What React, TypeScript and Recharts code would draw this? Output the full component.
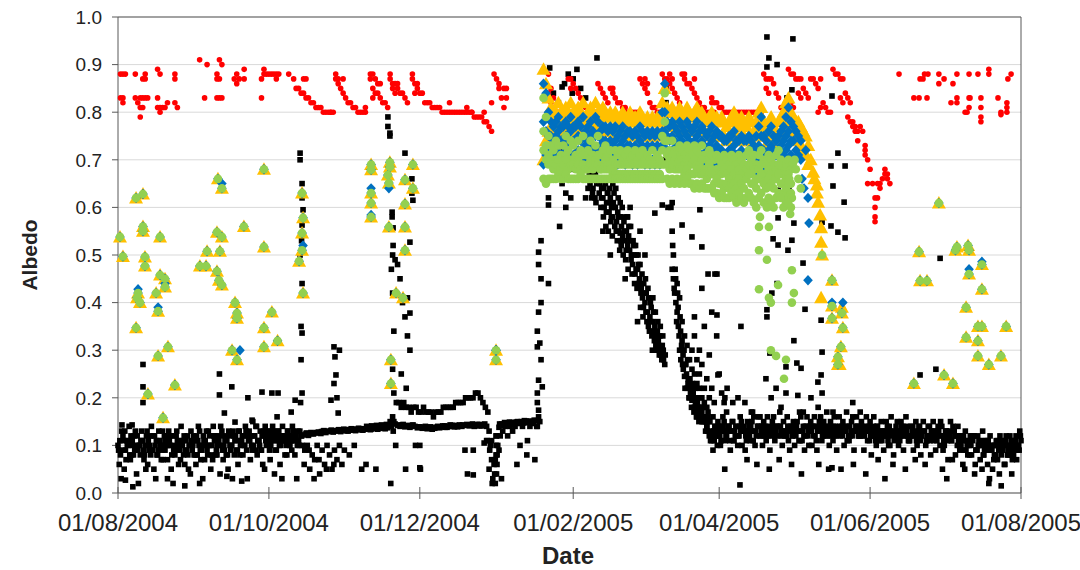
import React from 'react'
import {
  ScatterChart, Scatter, XAxis, YAxis, CartesianGrid, ReferenceLine,
} from 'recharts'

// x = days since 01/08/2004, y = albedo
const DATE_TICKS = [0, 61, 122, 184, 243, 304, 365]
const DATE_LABELS = ['01/08/2004', '01/10/2004', '01/12/2004', '01/02/2005', '01/04/2005', '01/06/2005', '01/08/2005']
const ALBEDO_TICKS = [0, 0.1, 0.2, 0.3, 0.4, 0.5, 0.6, 0.7, 0.8, 0.9, 1.0]

// black squares: daily readings (days 0-169 and 236-365)
const blackA1 = [
  0.10, 0.08, 0.12, 0.09, 0.11, 0.07, 0.10, 0.13, 0.09, 0.08,
  0.11, 0.10, 0.06, 0.12, 0.09, 0.10, 0.08, 0.11, 0.13, 0.09,
  0.07, 0.10, 0.12, 0.08, 0.11, 0.09, 0.10, 0.06, 0.12, 0.10,
  0.09, 0.11, 0.08, 0.13, 0.10, 0.07, 0.09, 0.12, 0.10, 0.11,
  0.08, 0.10, 0.13, 0.09, 0.11, 0.12, 0.10, 0.08, 0.11, 0.13,
  0.11, 0.12, 0.09, 0.13, 0.10, 0.12, 0.14, 0.11, 0.09, 0.12,
  0.10, 0.13, 0.11, 0.12, 0.09, 0.13, 0.11, 0.12, 0.10, 0.12,
  0.11, 0.13, 0.12, 0.11, 0.12, 0.122, 0.125, 0.121, 0.127, 0.124,
  0.126, 0.128, 0.125, 0.130, 0.127, 0.129, 0.131, 0.128, 0.130, 0.132,
  0.129, 0.131, 0.133, 0.130, 0.132, 0.134, 0.131, 0.133, 0.135, 0.132,
  0.134, 0.136, 0.133, 0.135, 0.137, 0.134, 0.136, 0.138, 0.135, 0.137,
  0.15, 0.16, 0.145, 0.142, 0.140, 0.143, 0.139, 0.141, 0.138, 0.142,
  0.140, 0.137, 0.139, 0.136, 0.138, 0.135, 0.137, 0.134, 0.136, 0.138,
  0.137, 0.139, 0.141, 0.138, 0.140, 0.142, 0.139, 0.141, 0.143, 0.140,
  0.142, 0.144, 0.141, 0.143, 0.140, 0.142, 0.144, 0.141, 0.143, 0.140,
  0.13, 0.11, 0.06, 0.12, 0.138, 0.145, 0.142, 0.147, 0.144, 0.148,
  0.145, 0.149, 0.146, 0.150, 0.147, 0.151, 0.148, 0.150, 0.146, 0.152,
]
const blackA2 = [
  0.17, 0.15, 0.14, 0.12,
  0.11, 0.13, 0.12, 0.14, 0.13, 0.15, 0.12, 0.14, 0.13, 0.11,
  0.14, 0.12, 0.15, 0.13, 0.11, 0.14, 0.13, 0.16, 0.12, 0.14,
  0.13, 0.15, 0.11, 0.14, 0.12, 0.16, 0.13, 0.14, 0.12, 0.15,
  0.13, 0.11, 0.14, 0.15, 0.12, 0.13, 0.16, 0.14, 0.12, 0.13,
  0.15, 0.12, 0.14, 0.13, 0.16, 0.12, 0.14, 0.13, 0.15, 0.11,
  0.14, 0.13, 0.12, 0.15, 0.13, 0.14, 0.12, 0.16, 0.13, 0.14,
  0.12, 0.14, 0.13, 0.11, 0.15, 0.12, 0.13, 0.14, 0.11, 0.13,
  0.12, 0.14, 0.10, 0.13, 0.12, 0.15, 0.11, 0.13, 0.12, 0.14,
  0.11, 0.13, 0.12, 0.10, 0.14, 0.12, 0.13, 0.11, 0.14, 0.12,
  0.13, 0.11, 0.12, 0.14, 0.10, 0.13, 0.12, 0.11, 0.13, 0.12,
  0.10, 0.12, 0.09, 0.11, 0.10, 0.08, 0.12, 0.09, 0.11, 0.10,
  0.08, 0.11, 0.09, 0.10, 0.07, 0.11, 0.09, 0.08, 0.10, 0.12,
  0.09, 0.11, 0.08, 0.12, 0.10, 0.11,
]
const blackB1 = [
  0.06, 0.13, 0.05, 0.11, 0.14, 0.08, 0.12, 0.04, 0.10, 0.13,
  0.07, 0.12, 0.09, 0.14, 0.05, 0.11, 0.13, 0.07, 0.10, 0.12,
  0.13, 0.05, 0.09, 0.12, 0.06, 0.14, 0.08, 0.11, 0.05, 0.13,
  0.12, 0.06, 0.14, 0.07, 0.12, 0.10, 0.13, 0.05, 0.14, 0.08,
  0.12, 0.14, 0.07, 0.12, 0.05, 0.09, 0.13, 0.12, 0.06, 0.10,
  0.08, 0.14, 0.12, 0.07, 0.15, 0.09, 0.11, 0.13, 0.06, 0.14,
  0.13, 0.07, 0.14, 0.09, 0.13, 0.06, 0.14, 0.08, 0.13, 0.10,
  0.14, 0.08, 0.10, 0.13, 0.10, 0.09, 0.10, 0.05, 0.08, 0.07,
  0.10, 0.04, 0.09, 0.06, 0.10, 0.08, 0.05, 0.09, 0.07, 0.10,
  0.06, 0.09, null, 0.08, null, 0.10, null, null, 0.05, null,
  0.140, 0.138, 0.141, 0.139, 0.142, 0.140, 0.143, 0.141, 0.144, 0.142,
  0.14, 0.15, 0.19, 0.19, 0.18, 0.19, 0.18, 0.18, 0.17, 0.18,
  0.18, 0.17, 0.17, 0.18, 0.17, 0.17, 0.17, 0.16, 0.17, 0.17,
  0.17, 0.18, 0.18, 0.18, 0.18, 0.18, 0.19, 0.19, 0.19, 0.19,
  0.20, 0.20, 0.20, 0.20, 0.21, 0.21, 0.20, 0.19, 0.18, 0.17,
  0.10, 0.03, 0.07, 0.10, 0.12, 0.13, 0.14, 0.12, 0.14, 0.13,
  0.14, 0.15, 0.10, 0.14, 0.15, 0.11, 0.14, 0.15, 0.07, 0.14,
]
const blackB2 = [
  0.15, 0.13, 0.16, 0.11,
  0.09, 0.12, 0.15, 0.10, 0.16, 0.11, 0.14, 0.09, 0.15, 0.12,
  0.10, 0.16, 0.13, 0.09, 0.15, 0.11, 0.17, 0.10, 0.14, 0.16,
  0.10, 0.12, 0.16, 0.09, 0.15, 0.11, 0.14, 0.17, 0.10, 0.13,
  0.16, 0.09, 0.12, 0.10, 0.15, 0.17, 0.11, 0.09, 0.16, 0.14,
  0.10, 0.16, 0.09, 0.15, 0.11, 0.14, 0.17, 0.10, 0.12, 0.16,
  0.09, 0.16, 0.14, 0.10, 0.17, 0.11, 0.15, 0.09, 0.16, 0.12,
  0.15, 0.09, 0.16, 0.14, 0.08, 0.16, 0.10, 0.12, 0.15, 0.09,
  0.15, 0.10, 0.16, 0.08, 0.14, 0.10, 0.15, 0.09, 0.16, 0.11,
  0.14, 0.09, 0.15, 0.13, 0.08, 0.15, 0.10, 0.14, 0.08, 0.15,
  0.09, 0.14, 0.15, 0.09, 0.13, 0.07, 0.15, 0.14, 0.08, 0.14,
  0.12, 0.06, 0.13, 0.08, 0.12, 0.11, 0.06, 0.12, 0.07, 0.13,
  0.11, 0.06, 0.12, 0.05, 0.10, 0.07, 0.12, 0.11, 0.06, 0.08,
  0.12, 0.07, 0.11, 0.09, 0.13,
]
const blackC1 = [
  0.09, 0.03, 0.11, 0.07, 0.10, 0.12, 0.08, 0.10, 0.02, 0.11,
  0.09, 0.05, 0.11, 0.08, 0.12, 0.03, 0.09, 0.10, 0.07, 0.11,
  0.10, 0.12, 0.02, 0.09, 0.10, 0.07, 0.11, 0.09, 0.08, 0.04,
  0.10, 0.08, 0.11, 0.09, 0.03, 0.11, 0.08, 0.10, 0.07, 0.12,
  0.10, 0.04, 0.09, 0.11, 0.08, 0.10, 0.03, 0.11, 0.09, 0.08,
  0.12, 0.10, 0.03, 0.11, 0.09, 0.12, 0.08, 0.10, 0.12, 0.05,
  0.11, 0.09, 0.12, 0.04, 0.11, 0.10, 0.03, 0.11, 0.08, 0.12,
  0.09, 0.11, 0.03, 0.10, 0.12, 0.06, 0.126, 0.09, 0.125, 0.03,
  0.127, 0.07, 0.129, 0.131, 0.05, 0.130, 0.132, 0.06, 0.131, 0.133,
  0.132, 0.134, 0.131, 0.133, 0.135, 0.132, 0.134, 0.136, 0.133, 0.135,
  0.06, 0.137, 0.134, 0.136, 0.05, 0.137, 0.139, 0.136, 0.138, 0.140,
  0.02, 0.13, 0.10, 0.143, 0.141, 0.144, 0.05, 0.142, 0.140, 0.143,
  0.10, 0.139, 0.05, 0.138, 0.140, 0.137, 0.139, 0.136, 0.138, 0.14,
  0.139, 0.141, 0.138, 0.140, 0.143, 0.140, 0.142, 0.139, 0.141, 0.143,
  0.09, 0.04, 0.143, 0.145, 0.142, 0.144, 0.141, 0.143, 0.145, 0.11,
  0.09, 0.02, 0.04, 0.08, 0.145, 0.143, 0.148, 0.145, 0.149, 0.146,
  0.148, 0.06, 0.149, 0.147, 0.152, 0.08, 0.151, 0.149, 0.153, 0.14,
]
const blackC2 = [
  0.18, 0.16, 0.13, 0.15,
  0.12, 0.14, 0.10, 0.12, 0.14, 0.05, 0.13, 0.11, 0.15, 0.13,
  0.12, 0.14, 0.10, 0.13, 0.07, 0.12, 0.15, 0.13, 0.06, 0.12,
  0.14, 0.12, 0.13, 0.05, 0.13, 0.12, 0.14, 0.07, 0.13, 0.12,
  0.12, 0.14, 0.06, 0.13, 0.14, 0.11, 0.04, 0.12, 0.14, 0.10,
  0.13, 0.14, 0.11, 0.06, 0.13, 0.15, 0.12, 0.05, 0.13, 0.14,
  0.12, 0.13, 0.05, 0.13, 0.14, 0.12, 0.13, 0.06, 0.14, 0.12,
  0.13, 0.12, 0.04, 0.13, 0.12, 0.14, 0.11, 0.07, 0.13, 0.12,
  0.13, 0.11, 0.13, 0.06, 0.12, 0.13, 0.12, 0.14, 0.05, 0.12,
  0.12, 0.14, 0.07, 0.12, 0.11, 0.13, 0.06, 0.12, 0.11, 0.13,
  0.12, 0.13, 0.10, 0.05, 0.12, 0.11, 0.13, 0.07, 0.12, 0.10,
  0.09, 0.11, 0.05, 0.10, 0.08, 0.12, 0.04, 0.09, 0.10, 0.05,
  0.09, 0.10, 0.03, 0.09, 0.08, 0.10, 0.04, 0.09, 0.06, 0.10,
  0.08, 0.04, 0.10, 0.07, 0.09,
]
const blackFillEarly = [
  0.11, 0.09, 0.13, 0.10, 0.08, 0.11, 0.09, 0.12, 0.10, 0.11,
  0.08, 0.13, 0.10, 0.09, 0.12, 0.08, 0.11, 0.09, 0.12, 0.10,
  0.11, 0.08, 0.10, 0.13, 0.09, 0.11, 0.12, 0.09, 0.10, 0.11,
  0.08, 0.12, 0.10, 0.09, 0.11, 0.13, 0.10, 0.08, 0.12, 0.09,
  0.11, 0.12, 0.10, 0.08, 0.13, 0.10, 0.12, 0.09, 0.13, 0.11,
  0.10, 0.13, 0.11, 0.12, 0.10, 0.14, 0.11, 0.09, 0.13, 0.11,
  0.12, 0.10, 0.13, 0.11, 0.12, 0.10, 0.12, 0.11, 0.13, 0.11,
  0.12, 0.11, 0.13,
]
const blackFillLate = [
  0.13, 0.12, 0.14, 0.11, 0.13, 0.12, 0.14, 0.13, 0.11, 0.14,
  0.12, 0.13, 0.14, 0.12, 0.13, 0.14, 0.11, 0.13, 0.14, 0.12,
  0.13, 0.14, 0.12, 0.13, 0.14, 0.13, 0.12, 0.14, 0.13, 0.12,
  0.14, 0.13, 0.12, 0.14, 0.13, 0.11, 0.13, 0.14, 0.12, 0.13,
  0.14, 0.12, 0.13, 0.14, 0.12, 0.13, 0.12, 0.14, 0.13, 0.12,
  0.13, 0.14, 0.12, 0.13, 0.11, 0.14, 0.12, 0.13, 0.14, 0.12,
  0.13, 0.12, 0.14, 0.11, 0.13, 0.12, 0.14, 0.13, 0.11, 0.13,
  0.12, 0.14, 0.12, 0.11, 0.13, 0.12, 0.14, 0.12, 0.13, 0.11,
  0.12, 0.13, 0.11, 0.14, 0.12, 0.13, 0.11, 0.12, 0.13, 0.11,
  0.12, 0.13, 0.12, 0.11, 0.13, 0.12, 0.11, 0.13, 0.12, 0.11,
  0.10, 0.12, 0.09, 0.11, 0.10, 0.12, 0.09, 0.10, 0.11, 0.08,
  0.10, 0.11, 0.09, 0.10, 0.08, 0.11, 0.10, 0.09, 0.11, 0.08,
  0.10, 0.09, 0.11, 0.10, 0.12,
]
// black squares off the baseline: spikes and outliers [day, albedo]
const blackOutliers = [
  [10.1, 0.27], [10.1, 0.223], [10.1, 0.19], [41, 0.25], [41, 0.206], [46, 0.223], [52.5, 0.2], [58.2, 0.212],
  [43, 0.168], [47.3, 0.149], [54.2, 0.153], [1.6, 0.143], [5.7, 0.143], [3, 0.027], [6, 0.013], [20, 0.03],
  [33, 0.02], [50, 0.025], [44, 0.035], [27, 0.015], [62.2, 0.21], [64.7, 0.21], [71.6, 0.195], [70, 0.17], [64.3, 0.16],
  [73.6, 0.714], [73.6, 0.70], [74.4, 0.65], [74.4, 0.62], [74.8, 0.595], [74.4, 0.563], [73.6, 0.50], [74.4, 0.44],
  [74.0, 0.35], [74.4, 0.336], [74.0, 0.28], [74.4, 0.21], [73.8, 0.19], [74.2, 0.53],
  [87.3, 0.307], [89.5, 0.30], [87.7, 0.286], [88.1, 0.248], [87.3, 0.23], [86.1, 0.195], [88.5, 0.2], [89, 0.168],
  [109.1, 0.79], [109.1, 0.77], [109.9, 0.756], [109.9, 0.75], [110.8, 0.59], [110.8, 0.58], [111.2, 0.557],
  [111.2, 0.52], [116, 0.714], [118.8, 0.66], [119.2, 0.615], [118.8, 0.63], [118, 0.527], [111, 0.5], [110.5, 0.47],
  [111, 0.42], [111.5, 0.34], [111, 0.26], [111.5, 0.21], [115, 0.4], [116, 0.37], [117, 0.33], [118, 0.3],
  [114, 0.45], [113, 0.48], [117, 0.41], [118, 0.378], [112, 0.49], [114.5, 0.25], [116.5, 0.22],
  [152.8, 0.12], [152.8, 0.10], [152.8, 0.08], [153.2, 0.06], [153, 0.04], [152.5, 0.02], [148, 0.105],
  [143.6, 0.09], [143.6, 0.038], [149, 0.11], [150, 0.05], [151, 0.07], [154, 0.09], [155, 0.03], [122, 0.1], [122, 0.053],
  [170, 0.506], [170, 0.48], [171, 0.45], [174, 0.44], [171, 0.40], [170, 0.38], [169.5, 0.34], [170.5, 0.315],
  [169.5, 0.307], [171, 0.28], [170, 0.237], [171.5, 0.223], [169.5, 0.21], [169.5, 0.19], [170, 0.174], [171, 0.53],
  [174, 0.62], [174, 0.605], [179.5, 0.65], [178.5, 0.56], [181, 0.60], [170.5, 0.15], [170, 0.16],
  [174.5, 0.893], [179.5, 0.853], [183.6, 0.84], [182, 0.88], [185.5, 0.89], [193.6, 0.914], [184, 0.87], [176, 0.84],
  [178, 0.82], [173, 0.83], [175, 0.80], [172.5, 0.7], [173.5, 0.75], [177, 0.7], [180, 0.72], [184, 0.68],
  [186, 0.66], [188, 0.7], [190, 0.64], [181, 0.63], [176, 0.66], [183, 0.62], [187, 0.85], [189, 0.83], [180.5, 0.86],
  [221.5, 0.66], [221.5, 0.7], [221.5, 0.74], [221.5, 0.78], [221.5, 0.82], [221.5, 0.85],
  [262.3, 0.958], [272.8, 0.954], [263.1, 0.914], [262.3, 0.895], [266.4, 0.9], [272.4, 0.847], [270.4, 0.83],
  [288.6, 0.834], [291, 0.714], [288.2, 0.687], [293.9, 0.687], [289, 0.645], [262.3, 0.657], [266.8, 0.636],
  [271.2, 0.643], [271.2, 0.626], [293.5, 0.611], [263.1, 0.6], [266.8, 0.578], [273.2, 0.567], [284.6, 0.569],
  [288.2, 0.561], [291, 0.548], [293.9, 0.536], [264.8, 0.534], [266.8, 0.521], [272.4, 0.531], [270.8, 0.51],
  [242.1, 0.46], [242.1, 0.374], [251.8, 0.35], [276.9, 0.483], [266.4, 0.44], [264.3, 0.42], [262.3, 0.385],
  [262.3, 0.37], [273.2, 0.32], [277.7, 0.386], [284.2, 0.363], [284.6, 0.296], [263.5, 0.294], [270, 0.265],
  [274.4, 0.273], [276.1, 0.262], [261.9, 0.24], [284.2, 0.248], [282.9, 0.233], [266, 0.22], [270, 0.21],
  [264, 0.2], [274.8, 0.205], [280.1, 0.2], [284.6, 0.21], [242.5, 0.248], [246.2, 0.22], [250.6, 0.2],
  [253.4, 0.19], [251.4, 0.017], [288.6, 0.053], [245.3, 0.2], [248.5, 0.19], [256, 0.17], [259, 0.16],
  [268, 0.18], [277, 0.17], [283, 0.18], [289, 0.17], [297, 0.19], [300, 0.17], [332.3, 0.493], [324.2, 0.248],
  [330.6, 0.26], [310, 0.03], [352, 0.02], [357, 0.015], [335, 0.03],
]
// black squares of the spring melt: first fall (days 188-221) and second fall (days 220-246)
const blackMelt = [
  [191, 0.66], [191.5, 0.68], [192, 0.64], [193, 0.67], [193.5, 0.65], [194, 0.69], [194.5, 0.63], [195, 0.66],
  [195.5, 0.64], [196, 0.62], [196.5, 0.6], [197, 0.65], [197.5, 0.61], [198, 0.63], [198.5, 0.59], [199, 0.62],
  [199.5, 0.6], [200, 0.58], [200.5, 0.63], [201, 0.6], [201.5, 0.57], [202, 0.59], [202.5, 0.55], [203, 0.58],
  [203.5, 0.56], [204, 0.54], [204.5, 0.57], [205, 0.53], [205.5, 0.55], [206, 0.52], [206.5, 0.56], [207, 0.53],
  [207.5, 0.5], [208, 0.48], [208.5, 0.52], [209, 0.46], [209.5, 0.5], [210, 0.47], [210.5, 0.44], [211, 0.48],
  [211.5, 0.43], [212, 0.41], [212.5, 0.44], [213, 0.4], [213.5, 0.42], [214, 0.38], [214.5, 0.41], [215, 0.37],
  [215.5, 0.39], [216, 0.36], [216.5, 0.38], [217, 0.35], [217.5, 0.33], [218, 0.34], [218.5, 0.31], [219, 0.33],
  [219.5, 0.3], [220, 0.31], [220.5, 0.28], [221, 0.27], [196, 0.55], [205, 0.45], [210, 0.36], [207, 0.6],
  [213, 0.5], [202, 0.67], [216, 0.3], [199, 0.5], [198, 0.66], [200, 0.65], [203, 0.61], [206, 0.58],
  [188.5, 0.68], [189, 0.62], [189.5, 0.71], [190.5, 0.67], [191.5, 0.62], [192.5, 0.7], [193.2, 0.61], [194.2, 0.66],
  [195.2, 0.6], [195.8, 0.68], [196.2, 0.58], [196.8, 0.66], [197.2, 0.56], [197.8, 0.63], [198.2, 0.55], [198.8, 0.64],
  [199.2, 0.57], [199.8, 0.54], [200.2, 0.61], [200.8, 0.56], [201.2, 0.64], [201.8, 0.53], [202.2, 0.62], [202.8, 0.51],
  [203.2, 0.53], [203.8, 0.6], [204.2, 0.5], [204.8, 0.55], [205.2, 0.49], [205.8, 0.58], [206.2, 0.47], [206.8, 0.51],
  [207.2, 0.56], [207.8, 0.46], [208.2, 0.53], [208.8, 0.44], [209.2, 0.52], [209.8, 0.43], [210.2, 0.5], [210.8, 0.45],
  [211.2, 0.39], [211.8, 0.46], [212.2, 0.37], [212.8, 0.42], [213.2, 0.45], [213.8, 0.36], [214.2, 0.43], [214.8, 0.34],
  [215.2, 0.4], [215.8, 0.33], [216.2, 0.41], [216.8, 0.32], [217.2, 0.38], [217.8, 0.3], [218.2, 0.36], [218.8, 0.29],
  [219.2, 0.35], [219.8, 0.28], [220.2, 0.33],
  [190.2, 0.7], [190.8, 0.65], [191.2, 0.69], [191.8, 0.63], [192.2, 0.67], [192.8, 0.62], [193.8, 0.68], [194.8, 0.65],
  [195.4, 0.62], [196.4, 0.64], [197.4, 0.59], [198.4, 0.61], [199.4, 0.58], [200.4, 0.6], [201.4, 0.55], [202.4, 0.58],
  [203.4, 0.52], [204.4, 0.58], [205.4, 0.51], [206.4, 0.54], [207.4, 0.49], [208.4, 0.5], [209.4, 0.47], [210.4, 0.48],
  [211.4, 0.42], [212.4, 0.39], [213.4, 0.38], [214.4, 0.35], [215.4, 0.36], [216.4, 0.34], [217.4, 0.31], [218.4, 0.32],
  [219.4, 0.29], [220.4, 0.3], [221.2, 0.29],
  [220, 0.605], [222.3, 0.6], [224, 0.61], [228, 0.563], [232, 0.538], [235.2, 0.595], [236, 0.517], [217, 0.588],
  [211, 0.55], [203, 0.546],
  [223.5, 0.6], [224, 0.55], [224.5, 0.5], [224, 0.47], [224.5, 0.45], [225, 0.42], [225.5, 0.4], [226, 0.38],
  [226.5, 0.35], [227, 0.3], [227.5, 0.28], [228, 0.32], [228.5, 0.26], [229, 0.245], [229.5, 0.27], [230, 0.22],
  [230.5, 0.24], [231, 0.2], [231.5, 0.22], [232, 0.195], [232.5, 0.21], [233, 0.18], [233.5, 0.2], [234, 0.16],
  [234.5, 0.18], [235, 0.17], [236, 0.15], [237, 0.16], [238, 0.14], [239, 0.15], [240, 0.12], [241, 0.11], [242, 0.13],
  [224.2, 0.52], [224.8, 0.43], [225.2, 0.47], [225.8, 0.36], [226.2, 0.42], [226.8, 0.33], [227.2, 0.37], [227.8, 0.31],
  [228.2, 0.27], [228.8, 0.3], [229.2, 0.22], [229.8, 0.25], [230.2, 0.28], [230.8, 0.2], [231.2, 0.24], [231.8, 0.18],
  [232.2, 0.23], [232.8, 0.17], [233.2, 0.22], [233.8, 0.16], [234.2, 0.19], [234.8, 0.15], [235.2, 0.2], [235.8, 0.16],
  [236.5, 0.18], [237.5, 0.15], [238.5, 0.17], [239.5, 0.13], [240.5, 0.16], [241.5, 0.14],
  [232, 0.3], [233, 0.33], [234, 0.28], [235, 0.25], [236, 0.27], [237, 0.22], [238, 0.24], [239, 0.2], [240, 0.22], [241, 0.19],
  [225.4, 0.45], [226.4, 0.39], [227.4, 0.34], [228.4, 0.29], [229.4, 0.27], [230.4, 0.23], [231.4, 0.21], [232.4, 0.2],
  [233.4, 0.19], [234.4, 0.17], [226, 0.44], [227, 0.41], [228, 0.36], [229, 0.33], [230, 0.31], [231, 0.28],
  [232, 0.26], [233, 0.25], [234, 0.23], [235, 0.22], [236, 0.2], [237, 0.19], [238, 0.18],
  [238.5, 0.46], [241.3, 0.46], [236, 0.43], [240, 0.38], [237, 0.35], [242, 0.33], [239, 0.29], [243, 0.25],
  [235, 0.3], [233, 0.37], [244, 0.21], [245, 0.19], [246, 0.17],
]

// red dots [day, albedo] and daily tracks
const redEarly = [
  [1, 0.88], [2, 0.88], [3, 0.88], [7, 0.88], [11, 0.88], [17, 0.88], [23, 0.88], [40, 0.88], [48, 0.88], [59, 0.88],
  [10, 0.87], [11, 0.87], [23, 0.87], [40, 0.87], [41, 0.87], [47, 0.87], [49, 0.87], [51, 0.87], [58, 0.87],
  [48, 0.86], [16, 0.89], [51, 0.89], [59, 0.89], [33, 0.91], [41, 0.91], [36, 0.90], [42, 0.90],
  [1, 0.83], [2, 0.83], [7, 0.83], [9, 0.83], [10, 0.83], [11, 0.83], [12, 0.83], [16, 0.83], [35, 0.83],
  [40, 0.83], [41, 0.83], [42, 0.83], [58, 0.83], [2, 0.82], [8, 0.82], [20, 0.82], [23, 0.82],
  [9, 0.81], [10, 0.81], [16, 0.81], [17, 0.81], [18, 0.81], [19, 0.81], [24, 0.81], [17, 0.80], [9, 0.79],
]
const redAutumn = [
  0.88, 0.88, 0.88, 0.88, 0.88, 0.88, null, null, null, 0.88,
  null, 0.87, 0.85, 0.85, 0.84, 0.84, 0.83, 0.83, 0.82, 0.82,
  0.81, 0.81, 0.81, 0.80, 0.80, 0.80, 0.80, 0.80, 0.87, 0.86,
  0.85, 0.84, 0.83, 0.82, 0.82, 0.81, 0.81, 0.80, 0.80, 0.80,
  0.80, null, 0.87, 0.85, 0.84, 0.84, 0.83, 0.82, 0.82, 0.81,
  0.87, 0.86, 0.86, 0.85, 0.84, 0.84, 0.83, 0.82, null, 0.87,
  0.86, 0.85, 0.84, 0.84, 0.82, 0.82, 0.82, 0.81, 0.81, 0.81,
  0.81, 0.80, 0.80, 0.80, 0.80, 0.80, 0.80, 0.80, 0.80, 0.80,
  0.80, 0.80, 0.80, 0.80, 0.79, 0.79, 0.79, 0.79, 0.78, 0.78,
  0.77, 0.76, 0.88, 0.87, 0.85, 0.83, 0.85, 0.83,
]
const redSpring = [
  0.83, 0.86, 0.84, 0.82, 0.81, 0.80, 0.80, 0.80, 0.79, 0.80,
  0.87, 0.87, 0.86, 0.85, 0.84, 0.83, 0.82, 0.81, 0.81, 0.80,
  0.80, 0.80, 0.86, 0.85, 0.84, 0.83, 0.82, 0.85, 0.84, 0.83,
  0.82, 0.82, 0.81, 0.81, 0.80, 0.80, 0.80, 0.80, 0.80, 0.87,
  0.86, 0.85, 0.84, 0.82, 0.81, 0.81, 0.80, 0.80, 0.88, 0.87,
  0.87, 0.86, 0.85, 0.84, 0.83, 0.82, 0.88, 0.87, 0.86, 0.86,
  0.85, 0.84, 0.83, 0.82, 0.81, 0.81, 0.80, 0.80, 0.82, 0.82,
  0.82, 0.81, 0.81, 0.80, 0.80, 0.80, 0.80, 0.80, 0.80, 0.80,
  0.80, 0.80, 0.80, 0.80, 0.80, 0.80, 0.80, 0.80, 0.80, 0.88,
  0.87, 0.87, 0.87, 0.86, 0.84, 0.83, 0.81, 0.80, 0.80, 0.89,
  0.88, 0.88, 0.87, 0.87, 0.87, 0.85, 0.84, 0.83, 0.87, 0.87,
  0.86, 0.85, 0.87, 0.82, 0.81, 0.80, 0.80, 0.89, 0.88, 0.88,
  0.87, 0.87, 0.84, 0.83, 0.82, 0.78, 0.77, 0.76, 0.77, 0.76,
  0.73, 0.70, 0.68, 0.65, 0.62, 0.62, 0.64, 0.66, 0.68, 0.66,
  0.65,
]
const redExtra = [
  [64, 0.87], [75, 0.87], [76, 0.87], [86, 0.8], [88, 0.88], [89, 0.87], [91, 0.87], [100, 0.81], [102, 0.88],
  [103, 0.88], [104, 0.87], [103, 0.83], [105, 0.86], [106, 0.86], [110, 0.88], [111, 0.85], [112, 0.84],
  [113, 0.86], [119, 0.88], [120, 0.84], [121, 0.86], [134, 0.82], [141, 0.81], [143, 0.8], [148, 0.8],
  [151, 0.82], [154, 0.86], [156, 0.81], [157, 0.85], [174, 0.88], [175, 0.85], [176, 0.83], [183, 0.85],
  [195, 0.81], [200, 0.85], [213, 0.87], [214, 0.86], [223, 0.88], [224, 0.87], [229, 0.88], [233, 0.87],
  [240, 0.83], [241, 0.8], [250, 0.79], [262, 0.85], [263, 0.84], [272, 0.82], [273, 0.81], [275, 0.84],
  [276, 0.83], [283, 0.8], [284, 0.81], [292, 0.83], [293, 0.82], [295, 0.79], [296, 0.78], [297, 0.77],
  [298, 0.76], [299, 0.74], [302, 0.72], [302, 0.71], [303, 0.65], [306, 0.6], [306, 0.58], [306, 0.57],
  [307, 0.65], [308, 0.65], [310, 0.67], [311, 0.67],
]
const redLate = [
  [315.7, 0.88], [321.7, 0.83], [323.8, 0.83], [324.2, 0.87], [325.4, 0.87], [326, 0.88], [327.4, 0.88],
  [327, 0.83], [331.8, 0.88], [331.8, 0.86], [333.9, 0.87], [336.7, 0.82], [337.5, 0.86], [339.1, 0.88],
  [339.1, 0.83], [339.1, 0.82], [342.4, 0.80], [343.2, 0.80], [344, 0.88], [344, 0.83], [344, 0.81],
  [344.4, 0.83], [347.6, 0.88], [348.8, 0.83], [348.8, 0.81], [348.8, 0.79], [348.8, 0.78], [352, 0.89],
  [352, 0.88], [355.7, 0.83], [356.9, 0.795], [356.9, 0.80], [359.3, 0.82], [359.3, 0.81], [359.3, 0.80],
  [359.7, 0.87], [361, 0.88],
]

// orange / blue / green: daily bands during the snow season (days 172-272)
const orangeHigh = [
  0.89, 0.86, 0.83, 0.81, 0.79, 0.80, 0.82, 0.80, 0.79, 0.81,
  0.80, 0.82, 0.80, 0.79, 0.81, 0.80, 0.82, 0.79, 0.80, 0.81,
  0.79, 0.82, 0.80, 0.79, 0.81, 0.80, 0.79, 0.80, 0.79, 0.80,
  0.78, 0.79, 0.80, 0.78, 0.79, 0.80, 0.78, 0.79, 0.78, 0.80,
  0.79, 0.78, 0.79, 0.78, 0.79, 0.78, 0.79, 0.78, 0.82, 0.85,
  0.81, 0.80, 0.81, 0.80, 0.79, 0.81, 0.80, 0.79, 0.81, 0.80,
  0.79, 0.80, 0.81, 0.79, 0.80, 0.79, 0.78, 0.79, 0.80, 0.78,
  0.79, 0.78, 0.79, 0.78, 0.77, 0.78, 0.79, 0.80, 0.78, 0.77,
  0.79, 0.78, 0.77, 0.79, 0.78, 0.76, 0.78, 0.80, 0.81, 0.78,
  0.76, 0.78, 0.79, 0.77, 0.76, 0.78, 0.79, 0.80, 0.82, 0.83,
  0.80,
]
const orangeLow = [
  0.70, 0.74, 0.76, 0.77, 0.76, 0.77, 0.78, 0.76, 0.76, 0.77,
  0.77, 0.78, 0.76, 0.76, 0.77, 0.76, 0.78, 0.76, 0.77, 0.77,
  0.76, 0.78, 0.77, 0.76, 0.77, 0.76, 0.76, 0.77, 0.75, 0.76,
  0.75, 0.76, 0.76, 0.75, 0.76, 0.76, 0.75, 0.76, 0.75, 0.76,
  0.75, 0.75, 0.76, 0.75, 0.75, 0.75, 0.76, 0.75, 0.78, 0.80,
  0.77, 0.77, 0.77, 0.77, 0.76, 0.77, 0.77, 0.76, 0.77, 0.76,
  0.76, 0.77, 0.77, 0.76, 0.76, 0.76, 0.75, 0.76, 0.76, 0.75,
  0.76, 0.75, 0.75, 0.75, 0.74, 0.75, 0.75, 0.76, 0.75, 0.74,
  0.75, 0.75, 0.74, 0.75, 0.74, 0.73, 0.75, 0.76, 0.77, 0.75,
  0.73, 0.74, 0.75, 0.74, 0.73, 0.74, 0.75, 0.76, 0.77, 0.78,
  0.77,
]
const blueHigh = [
  0.86, 0.84, 0.80, 0.78, 0.77, 0.78, 0.79, 0.77, 0.77, 0.78,
  0.77, 0.79, 0.77, 0.77, 0.78, 0.77, 0.79, 0.76, 0.77, 0.78,
  0.76, 0.79, 0.78, 0.76, 0.77, 0.77, 0.76, 0.77, 0.76, 0.77,
  0.75, 0.76, 0.77, 0.75, 0.76, 0.76, 0.75, 0.76, 0.75, 0.77,
  0.76, 0.75, 0.76, 0.75, 0.76, 0.75, 0.76, 0.75, 0.80, 0.86,
  0.78, 0.77, 0.78, 0.77, 0.76, 0.78, 0.77, 0.76, 0.78, 0.77,
  0.76, 0.77, 0.78, 0.76, 0.77, 0.76, 0.75, 0.76, 0.77, 0.75,
  0.76, 0.75, 0.75, 0.74, 0.74, 0.75, 0.75, 0.76, 0.74, 0.74,
  0.75, 0.74, 0.74, 0.75, 0.74, 0.73, 0.75, 0.77, 0.79, 0.75,
  0.74, 0.76, 0.77, 0.75, 0.74, 0.75, 0.76, 0.77, 0.79, 0.81,
  0.78,
]
const blueMid = [
  0.78, 0.76, 0.75, 0.75, 0.74, 0.75, 0.76, 0.74, 0.74, 0.75,
  0.74, 0.76, 0.74, 0.74, 0.75, 0.74, 0.75, 0.73, 0.74, 0.75,
  0.73, 0.75, 0.75, 0.73, 0.74, 0.74, 0.73, 0.74, 0.73, 0.74,
  0.72, 0.73, 0.74, 0.72, 0.73, 0.73, 0.72, 0.73, 0.72, 0.74,
  0.73, 0.72, 0.73, 0.72, 0.73, 0.72, 0.73, 0.72, 0.76, 0.80,
  0.75, 0.74, 0.75, 0.74, 0.73, 0.75, 0.74, 0.73, 0.75, 0.74,
  0.73, 0.74, 0.75, 0.73, 0.74, 0.73, 0.72, 0.73, 0.74, 0.72,
  0.73, 0.72, 0.72, 0.71, 0.71, 0.72, 0.72, 0.73, 0.71, 0.71,
  0.72, 0.71, 0.71, 0.72, 0.71, 0.70, 0.72, 0.73, 0.75, 0.72,
  0.71, 0.72, 0.73, 0.72, 0.71, 0.72, 0.73, 0.74, 0.75, 0.76,
  0.74,
]
const blueLow = [
  0.69, 0.71, 0.72, 0.72, 0.71, 0.72, 0.73, 0.71, 0.71, 0.72,
  0.71, 0.73, 0.71, 0.71, 0.72, 0.71, 0.72, 0.70, 0.71, 0.72,
  0.70, 0.72, 0.72, 0.70, 0.71, 0.71, 0.70, 0.71, 0.70, 0.71,
  0.69, 0.70, 0.71, 0.69, 0.70, 0.70, 0.69, 0.70, 0.69, 0.71,
  0.70, 0.69, 0.70, 0.69, 0.70, 0.69, 0.70, 0.69, 0.73, 0.76,
  0.72, 0.71, 0.72, 0.71, 0.70, 0.72, 0.71, 0.70, 0.72, 0.71,
  0.70, 0.71, 0.72, 0.70, 0.71, 0.70, 0.69, 0.70, 0.71, 0.69,
  0.70, 0.69, 0.69, 0.68, 0.68, 0.69, 0.69, 0.70, 0.68, 0.68,
  0.69, 0.68, 0.68, 0.69, 0.68, 0.67, 0.69, 0.70, 0.71, 0.69,
  0.68, 0.69, 0.70, 0.69, 0.67, 0.68, 0.70, 0.71, 0.72, 0.73,
  0.71,
]
const greenHigh = [
  0.83, 0.79, 0.75, 0.73, 0.72, 0.74, 0.73, 0.71, 0.73, 0.75,
  0.72, 0.74, 0.73, 0.71, 0.74, 0.72, 0.75, 0.71, 0.72, 0.74,
  0.71, 0.73, 0.75, 0.71, 0.72, 0.73, 0.71, 0.72, 0.70, 0.72,
  0.71, 0.72, 0.70, 0.71, 0.72, 0.70, 0.71, 0.72, 0.70, 0.71,
  0.72, 0.70, 0.71, 0.70, 0.72, 0.70, 0.71, 0.70, 0.75, 0.84,
  0.74, 0.72, 0.74, 0.72, 0.71, 0.73, 0.72, 0.71, 0.73, 0.72,
  0.71, 0.73, 0.72, 0.71, 0.73, 0.71, 0.70, 0.72, 0.71, 0.70,
  0.71, 0.70, 0.69, 0.71, 0.70, 0.69, 0.71, 0.70, 0.69, 0.71,
  0.70, 0.69, 0.71, 0.72, 0.70, 0.71, 0.69, 0.71, 0.72, 0.70,
  0.69, 0.71, 0.70, 0.69, 0.71, 0.72, 0.70, 0.68, 0.69, 0.70,
  0.68,
]
const greenMid = [
  0.76, 0.73, 0.71, 0.70, 0.69, 0.70, 0.70, 0.69, 0.70, 0.71,
  0.69, 0.70, 0.70, 0.69, 0.70, 0.69, 0.71, 0.68, 0.69, 0.70,
  0.69, 0.70, 0.71, 0.68, 0.69, 0.70, 0.69, 0.69, 0.68, 0.69,
  0.69, 0.69, 0.69, 0.69, 0.69, 0.69, 0.69, 0.69, 0.69, 0.69,
  0.69, 0.69, 0.69, 0.69, 0.69, 0.69, 0.69, 0.69, 0.72, 0.78,
  0.71, 0.70, 0.71, 0.70, 0.69, 0.70, 0.70, 0.69, 0.70, 0.69,
  0.69, 0.70, 0.69, 0.69, 0.70, 0.68, 0.68, 0.69, 0.68, 0.67,
  0.68, 0.67, 0.67, 0.68, 0.67, 0.66, 0.68, 0.67, 0.66, 0.68,
  0.67, 0.66, 0.68, 0.69, 0.67, 0.68, 0.66, 0.68, 0.69, 0.67,
  0.66, 0.68, 0.67, 0.66, 0.68, 0.69, 0.67, 0.65, 0.66, 0.67,
  0.65,
]
const greenMidLow = [
  0.72, 0.70, 0.69, 0.69, 0.68, 0.69, 0.70, 0.68, 0.69, 0.70,
  0.68, 0.69, 0.69, 0.68, 0.69, 0.68, 0.69, 0.68, 0.68, 0.69,
  0.68, 0.69, 0.69, 0.68, 0.68, 0.68, 0.68, 0.68, 0.67, 0.67,
  0.67, 0.67, 0.67, 0.67, 0.67, 0.67, 0.67, 0.67, 0.67, 0.67,
  0.67, 0.67, 0.67, 0.67, 0.67, 0.67, 0.67, 0.67, 0.69, 0.74,
  0.69, 0.68, 0.69, 0.68, 0.68, 0.68, 0.68, 0.67, 0.68, 0.67,
  0.67, 0.67, 0.68, 0.67, 0.67, 0.67, 0.66, 0.67, 0.67, 0.65,
  0.66, 0.65, 0.65, 0.64, 0.65, 0.64, 0.65, 0.65, 0.64, 0.66,
  0.65, 0.64, 0.66, 0.67, 0.65, 0.65, 0.64, 0.66, 0.67, 0.65,
  0.64, 0.66, 0.65, 0.64, 0.66, 0.67, 0.65, 0.63, 0.64, 0.65,
  0.63,
]
const greenLow = [
  0.66, 0.65, 0.66, 0.66, 0.66, 0.66, 0.67, 0.66, 0.66, 0.67,
  0.66, 0.66, 0.66, 0.66, 0.66, 0.67, 0.66, 0.66, 0.66, 0.66,
  0.66, 0.66, 0.66, 0.66, 0.66, 0.66, 0.66, 0.66, 0.66, 0.66,
  0.66, 0.66, 0.66, 0.66, 0.66, 0.66, 0.66, 0.66, 0.66, 0.66,
  0.66, 0.66, 0.66, 0.66, 0.66, 0.66, 0.66, 0.66, 0.66, 0.69,
  0.66, 0.65, 0.66, 0.65, 0.66, 0.65, 0.66, 0.65, 0.66, 0.65,
  0.65, 0.64, 0.65, 0.64, 0.65, 0.64, 0.64, 0.64, 0.64, 0.63,
  0.63, 0.62, 0.63, 0.62, 0.62, 0.62, 0.63, 0.62, 0.61, 0.63,
  0.62, 0.61, 0.62, 0.63, 0.62, 0.61, 0.60, 0.62, 0.63, 0.61,
  0.61, 0.62, 0.61, 0.60, 0.62, 0.63, 0.62, 0.60, 0.61, 0.62,
  0.60,
]

// isolated retrievals outside the snow season (same day for all three series)
const sparse = [
  [0.8, 0.538], [2.0, 0.497], [7.3, 0.62], [7.3, 0.347], [10.1, 0.628], [10.1, 0.56], [10.1, 0.55], [10.9, 0.496],
  [10.9, 0.477], [8.1, 0.42], [7.7, 0.41], [8.9, 0.40], [12.1, 0.208], [15.4, 0.42], [16.2, 0.382], [16.2, 0.288],
  [17, 0.538], [17, 0.458], [18.2, 0.158], [19, 0.45], [19, 0.433], [20.2, 0.307], [23, 0.227], [33.1, 0.477],
  [35.6, 0.477], [36, 0.508], [40.4, 0.66], [42, 0.64], [40, 0.548], [42, 0.538], [40, 0.466], [40.8, 0.447],
  [42, 0.437], [41.2, 0.508], [46.1, 0.30], [48.1, 0.28], [48.1, 0.378], [48.1, 0.367], [47.3, 0.40], [50.9, 0.56],
  [59, 0.68], [59, 0.517], [59, 0.347], [59, 0.307], [62.2, 0.38], [64.5, 0.32], [73.2, 0.487], [74.4, 0.63],
  [74.4, 0.51], [74.4, 0.546], [74.8, 0.578], [74.8, 0.42], [102.3, 0.69], [102.3, 0.679], [102.3, 0.63],
  [102.3, 0.609], [102.3, 0.58], [109.9, 0.695], [109.9, 0.685], [109.1, 0.668], [109.5, 0.651], [109.5, 0.559],
  [112.4, 0.42], [115.2, 0.41], [110.3, 0.28], [110.3, 0.23], [116, 0.658], [116, 0.607], [116, 0.559], [116, 0.51],
  [119.2, 0.69], [119.2, 0.64], [152.8, 0.30], [152.8, 0.28],
  [288.6, 0.447], [288.6, 0.393], [288.6, 0.367], [292.6, 0.378], [293, 0.347], [292.2, 0.307], [291, 0.286], [291, 0.27],
  [323.8, 0.507], [324.2, 0.446], [327, 0.446], [321.7, 0.23], [331.8, 0.609], [333.9, 0.248], [337.5, 0.23],
  [338.5, 0.51], [339.1, 0.517], [342.8, 0.39], [342.8, 0.327], [343.6, 0.52], [344, 0.51], [344, 0.46], [347.6, 0.35],
  [347.6, 0.32], [347.6, 0.288], [349.2, 0.48], [349.2, 0.428], [349.2, 0.35], [352, 0.27], [356.9, 0.288], [359, 0.35],
]
const blueExtra = [
  [8.1, 0.428], [16.2, 0.39], [19, 0.44], [42, 0.65], [49.3, 0.30], [74.8, 0.52], [102.3, 0.64], [102.3, 0.584],
  [109.5, 0.64], [152.8, 0.30], [344, 0.47], [349.2, 0.486],
  [273, 0.77], [273, 0.74], [274, 0.76], [274, 0.72], [275, 0.75], [275, 0.71], [276, 0.74], [276, 0.70],
  [276.5, 0.66], [277.3, 0.64], [278, 0.72], [278.9, 0.62], [279.3, 0.567], [278.9, 0.447], [288.6, 0.40], [293, 0.40],
]
const orangeTail = [
  [273, 0.79], [273, 0.76], [274, 0.78], [274, 0.75], [275, 0.78], [275, 0.74], [276, 0.77], [276, 0.73],
  [277, 0.76], [277, 0.72], [278, 0.75], [278, 0.71], [279, 0.73], [279, 0.69], [280, 0.70], [281, 0.674],
  [281.5, 0.66], [282.5, 0.647], [282.5, 0.63], [283, 0.611], [283.8, 0.584], [284.2, 0.557], [284.2, 0.527],
  [284.6, 0.50], [284.2, 0.41], [291.7, 0.27], [292.6, 0.39],
]
const greenExtra = [
  [259.1, 0.51], [262.3, 0.49], [272.4, 0.468], [266.8, 0.437], [259.1, 0.428], [263.1, 0.41], [273.2, 0.42],
  [263.9, 0.40], [272.4, 0.40], [263.9, 0.30], [266, 0.288], [270, 0.28], [269.2, 0.24], [259.5, 0.58],
  [263.1, 0.559], [259.1, 0.559], [271.7, 0.586], [272.4, 0.62], [270.9, 0.609], [271.3, 0.66], [272.8, 0.693],
  [262.3, 0.6], [263.1, 0.643], [273.5, 0.70], [274, 0.68], [275, 0.66], [276, 0.64], [284.6, 0.50],
]

const PLOT_BOTTOM = 493
const FONT = '"Liberation Sans", Arial, sans-serif'

const daily = (values: (number | null)[], start: number, offset = 0) =>
  values.map((v, i) => ({ d: start + i + offset, v })).filter((p) => p.v !== null)
const pairs = (list: number[][]) => list.map(([d, v]) => ({ d, v }))

const blackData = [
  ...daily(blackA1, 0), ...daily(blackA2, 236),
  ...daily(blackB1, 0, 0.5), ...daily(blackB2, 236, 0.5),
  ...daily(blackC1, 0, 0.25), ...daily(blackC2, 236, 0.25),
  ...daily(blackFillEarly, 0, 0.75), ...daily(blackFillLate, 240, 0.75),
  ...pairs(blackOutliers), ...pairs(blackMelt),
]
const redData = [
  ...pairs(redEarly), ...daily(redAutumn, 60), ...daily(redSpring, 172), ...pairs(redExtra), ...pairs(redLate),
]
const orangeData = [...daily(orangeHigh, 172), ...daily(orangeLow, 172), ...pairs(sparse), ...pairs(orangeTail)]
const blueData = [...daily(blueHigh, 172), ...daily(blueMid, 172), ...daily(blueLow, 172), ...pairs(sparse), ...pairs(blueExtra)]
const greenData = [
  ...daily(greenHigh, 172), ...daily(greenMid, 172), ...daily(greenMidLow, 172), ...daily(greenLow, 172),
  ...pairs(sparse), ...pairs(greenExtra),
]

const Square = (p: any) => <rect x={p.cx - 2.8} y={p.cy - 2.8} width={5.6} height={5.6} fill="#000000" />
const RedDot = (p: any) => <circle cx={p.cx} cy={p.cy} r={2.8} fill="#FF0000" />
const Triangle = (p: any) => (
  <polygon points={`${p.cx},${p.cy - 7} ${p.cx + 7},${p.cy + 5.5} ${p.cx - 7},${p.cy + 5.5}`} fill="#FFC000" />
)
const Diamond = (p: any) => (
  <polygon points={`${p.cx},${p.cy - 5.2} ${p.cx + 4.8},${p.cy} ${p.cx},${p.cy + 5.2} ${p.cx - 4.8},${p.cy}`} fill="#0070C0" />
)
const GreenDot = (p: any) => <circle cx={p.cx} cy={p.cy} r={4.3} fill="#92D050" />

function DateTick({ x, payload }: any) {
  const label = DATE_LABELS[DATE_TICKS.indexOf(payload.value)]
  return (
    <g>
      <line x1={x} x2={x} y1={PLOT_BOTTOM - 6} y2={PLOT_BOTTOM + 6} stroke="#595959" />
      <text x={x} y={PLOT_BOTTOM + 38} textAnchor="middle" fontSize={24} fontFamily={FONT} fill="#222">
        {label}
      </text>
    </g>
  )
}

export default function App() {
  return (
    <div style={{ position: 'absolute', left: 0, top: 0, width: 1080, height: 570, background: '#fff' }}>
      <ScatterChart width={1080} height={570} margin={{ top: 17, right: 59, bottom: 0, left: 0 }}>
        <CartesianGrid vertical={false} stroke="#D9D9D9" />
        <XAxis
          type="number" dataKey="d" domain={[0, 365]} ticks={DATE_TICKS} interval={0}
          height={77} tickLine={false} axisLine={{ stroke: '#595959' }} tick={<DateTick />}
        />
        <YAxis
          type="number" dataKey="v" domain={[0, 1]} ticks={ALBEDO_TICKS} interval={0} width={118}
          tickFormatter={(v: number) => v.toFixed(1)} tickSize={6} tickMargin={10}
          tickLine={{ stroke: '#595959' }} axisLine={{ stroke: '#595959' }}
          tick={{ fontSize: 19, fontFamily: FONT, fill: '#222' }}
        />
        <ReferenceLine y={1} stroke="#595959" />
        <ReferenceLine x={365} stroke="#595959" />
        <Scatter data={blackData} shape={Square} isAnimationActive={false} />
        <Scatter data={redData} shape={RedDot} isAnimationActive={false} />
        <Scatter data={orangeData} shape={Triangle} isAnimationActive={false} />
        <Scatter data={blueData} shape={Diamond} isAnimationActive={false} />
        <Scatter data={greenData} shape={GreenDot} isAnimationActive={false} />
      </ScatterChart>
      <div
        style={{
          position: 'absolute', left: 30, top: 255, transform: 'translate(-50%, -50%) rotate(-90deg)',
          fontFamily: FONT, fontWeight: 'bold', fontSize: 21, color: '#222', whiteSpace: 'nowrap',
        }}
      >
        Albedo
      </div>
      <div
        style={{
          position: 'absolute', left: 568, top: 556, transform: 'translate(-50%, -50%)',
          fontFamily: FONT, fontWeight: 'bold', fontSize: 24, color: '#222', whiteSpace: 'nowrap',
        }}
      >
        Date
      </div>
    </div>
  )
}
